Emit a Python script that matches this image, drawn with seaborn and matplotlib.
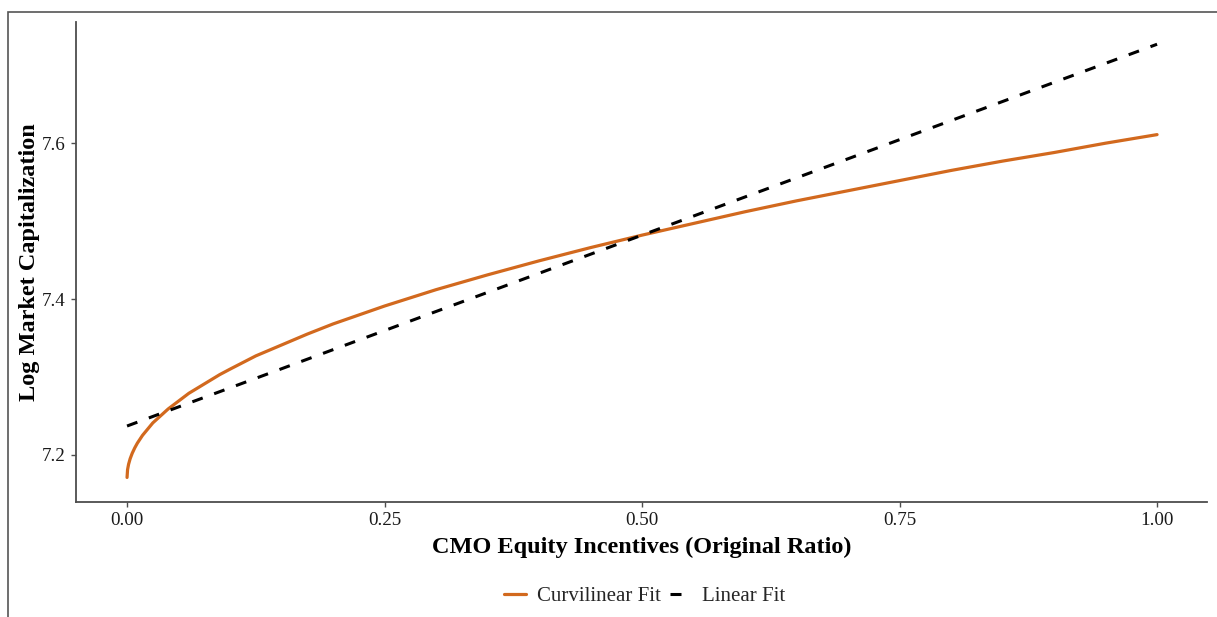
import matplotlib
matplotlib.use("Agg")
import matplotlib.pyplot as plt
from matplotlib.lines import Line2D
from matplotlib.patches import Rectangle
import seaborn as sns
import pandas as pd

# Fitted values: CMO equity incentives vs. log market capitalization
curve_x = [0.0, 0.0005, 0.0015, 0.003, 0.005, 0.0075, 0.01, 0.0125, 0.015, 0.02,
           0.025, 0.03, 0.04, 0.05, 0.06, 0.07, 0.08, 0.09, 0.10, 0.125, 0.15,
           0.175, 0.20, 0.25, 0.30, 0.35, 0.40, 0.45, 0.50, 0.55, 0.60, 0.65,
           0.70, 0.75, 0.80, 0.85, 0.90, 0.95, 1.00]
curve_y = [7.171, 7.181, 7.188, 7.195, 7.202, 7.209, 7.215, 7.220, 7.225, 7.233,
           7.241, 7.247, 7.259, 7.269, 7.279, 7.287, 7.295, 7.303, 7.310, 7.327, 7.341,
           7.355, 7.368, 7.391, 7.412, 7.431, 7.449, 7.466, 7.482, 7.497, 7.512, 7.526,
           7.539, 7.552, 7.565, 7.577, 7.588, 7.600, 7.611]
linear_x = [0.0, 1.0]
linear_y = [7.237, 7.727]

x_ticks = [0.0, 0.25, 0.5, 0.75, 1.0]
x_tick_labels = ["0.00", "0.25", "0.50", "0.75", "1.00"]
y_ticks = [7.2, 7.4, 7.6]
y_tick_labels = ["7.2", "7.4", "7.6"]

ORANGE = "#D2691E"
GREY = "#4d4d4d"

sns.set_theme(style="white")
plt.rcParams["font.family"] = ["Liberation Serif", "DejaVu Serif"]

fig = plt.figure(figsize=(12.17, 6.17), dpi=100)
ax = fig.add_axes([0.0625, 0.1864, 0.9293, 0.7779])

curve_df = pd.DataFrame({"x": curve_x, "y": curve_y})
linear_df = pd.DataFrame({"x": linear_x, "y": linear_y})

sns.lineplot(data=curve_df, x="x", y="y", ax=ax, color=ORANGE, linewidth=2.3,
             estimator=None, sort=False)
sns.lineplot(data=linear_df, x="x", y="y", ax=ax, color="black", linewidth=2.2,
             estimator=None, sort=False, dashes=False)
ax.lines[-1].set_dashes((3.6, 4.0))

ax.set_xlim(-0.0495, 1.0485)
ax.set_ylim(7.1395, 7.7555)
ax.set_xticks(x_ticks)
ax.set_xticklabels(x_tick_labels)
ax.set_yticks(y_ticks)
ax.set_yticklabels(y_tick_labels)

for side in ["top", "right"]:
    ax.spines[side].set_visible(False)
for side in ["left", "bottom"]:
    ax.spines[side].set_color(GREY)
    ax.spines[side].set_linewidth(1.3)

ax.tick_params(axis="both", which="major", direction="out", length=3.5, width=1.0,
               color=GREY, labelsize=13.7, labelcolor="#1a1a1a", pad=4,
               bottom=True, left=True)

ax.set_xlabel("CMO Equity Incentives (Original Ratio)", fontsize=17.5,
              fontweight="bold", color="black", labelpad=5)
ax.set_ylabel("Log Market Capitalization", fontsize=17.5,
              fontweight="bold", color="black", labelpad=1.5)

handles = [Line2D([0], [0], color=ORANGE, linewidth=2.3),
           Line2D([0], [0], color="black", linewidth=2.2, dashes=(3.6, 4.0))]
fig.legend(handles, ["Curvilinear Fit", "Linear Fit"], loc="center",
           bbox_to_anchor=(0.53, 0.034), ncol=2, frameon=False, fontsize=15,
           handlelength=1.05, handletextpad=0.5, columnspacing=0.45)

# Outer frame around the figure
fig.add_artist(Rectangle((8 / 1217, -0.05), 1.2, 1 - 12 / 617 + 0.05,
                         transform=fig.transFigure, fill=False,
                         edgecolor="#555555", linewidth=1.2))

fig.savefig("out.png", dpi=100, facecolor="white")
